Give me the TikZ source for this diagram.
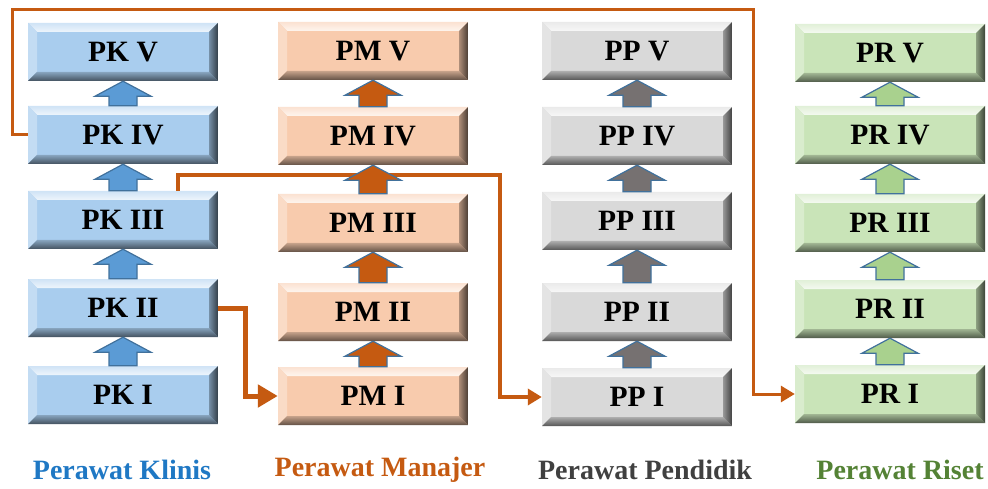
\documentclass[tikz,border=0pt]{standalone}
\usepackage{fontspec}
\setmainfont{Liberation Serif}
\usetikzlibrary{arrows.meta,calc}
\definecolor{kface}{HTML}{A9CDEE}
\definecolor{mface}{HTML}{F8CBAD}
\definecolor{pface}{HTML}{D9D9D9}
\definecolor{rface}{HTML}{C9E4B8}
\definecolor{karr}{HTML}{5B9BD5}
\definecolor{marr}{HTML}{C55A11}
\definecolor{parr}{HTML}{767171}
\definecolor{rarr}{HTML}{A9D18E}
\definecolor{arrline}{HTML}{41719C}
\definecolor{oline}{HTML}{C55A11}
\definecolor{ktxt}{HTML}{1F78C4}
\definecolor{mtxt}{HTML}{C55A11}
\definecolor{ptxt}{HTML}{404040}
\definecolor{rtxt}{HTML}{548235}
\newcommand{\bvz}{9pt}
\tikzset{
  bev/.style={minimum width=190pt, minimum height=58pt, inner sep=0pt,
    fill=#1, font=\fontsize{29.5}{31}\selectfont\bfseries,
    path picture={
      \path (path picture bounding box.north west) coordinate (bnw)
            (path picture bounding box.north east) coordinate (bne)
            (path picture bounding box.south west) coordinate (bsw)
            (path picture bounding box.south east) coordinate (bse);
      \shade[top color=#1!55!white, bottom color=#1!20!white] (bnw) -- (bne) -- ([shift={(-\bvz,-\bvz)}]bne) -- ([shift={(\bvz,-\bvz)}]bnw) -- cycle;
      \fill[#1!70!white] (bnw) -- ([shift={(\bvz,-\bvz)}]bnw) -- ([shift={(\bvz,\bvz)}]bsw) -- (bsw) -- cycle;
      \shade[top color=#1!80!black, bottom color=#1!40!black] (bsw) -- (bse) -- ([shift={(-\bvz,\bvz)}]bse) -- ([shift={(\bvz,\bvz)}]bsw) -- cycle;
      \shade[left color=#1!70!black, right color=#1!30!black] (bne) -- (bse) -- ([shift={(-\bvz,\bvz)}]bse) -- ([shift={(-\bvz,-\bvz)}]bne) -- cycle;
    }},
  uparr/.style={fill=#1, draw=arrline, line width=1.2pt, line join=miter},
  conn/.style={draw=oline, line width=#1, line join=miter,
    -{Triangle[length=14pt,width=16pt]}},
  lbl/.style={font=\fontsize{28}{30}\selectfont\bfseries, inner sep=0pt}
}
\newcommand{\uparr}[3]{%
  \draw[uparr=#3] (#1.south) -- ++(28pt,-15pt) -- ++(-14pt,0pt) -- ([xshift=14pt]#2.north)
    -- ([xshift=-14pt]#2.north) -- ([shift={(-14pt,-15pt)}]#1.south) -- ++(-14pt,0pt) -- cycle;}
\begin{document}
\begin{tikzpicture}[x=1pt,y=-1pt]
\useasboundingbox (0,0) rectangle (988,489);
% Perawat Klinis
\node[bev=kface] (pk5) at (123,52) {PK V};
\node[bev=kface] (pk4) at (123,135) {PK IV};
\node[bev=kface] (pk3) at (123,220) {PK III};
\node[bev=kface] (pk2) at (123,308) {PK II};
\node[bev=kface] (pk1) at (123,395) {PK I};
% Perawat Manajer
\node[bev=mface] (pm5) at (373,51) {PM V};
\node[bev=mface] (pm4) at (373,136) {PM IV};
\node[bev=mface] (pm3) at (373,223) {PM III};
\node[bev=mface] (pm2) at (373,312) {PM II};
\node[bev=mface] (pm1) at (373,396) {PM I};
% Perawat Pendidik
\node[bev=pface] (pp5) at (637,51) {PP V};
\node[bev=pface] (pp4) at (637,136) {PP IV};
\node[bev=pface] (pp3) at (637,221) {PP III};
\node[bev=pface] (pp2) at (637,312) {PP II};
\node[bev=pface] (pp1) at (637,397) {PP I};
% Perawat Riset
\node[bev=rface] (pr5) at (890,53) {PR V};
\node[bev=rface] (pr4) at (890,135) {PR IV};
\node[bev=rface] (pr3) at (890,223) {PR III};
\node[bev=rface] (pr2) at (890,309) {PR II};
\node[bev=rface] (pr1) at (890,394) {PR I};
% orange connectors
\coordinate (k1) at (12,10);
\coordinate (k2) at (753,10);
\coordinate (m1) at (500,175);
\draw[conn=3pt] (pk4.west) -| (k1) -- (k2) |- (pr1.west);
\draw[conn=3.5pt] ([xshift=55pt]pk3.north) |- (m1) |- (pp1.west);
\draw[conn=5pt, -{Triangle[length=20pt,width=22pt]}] (pk2.east) -- ++(27,0) |- (pm1.west);
% up arrows
\uparr{pk5}{pk4}{karr}
\uparr{pk4}{pk3}{karr}
\uparr{pk3}{pk2}{karr}
\uparr{pk2}{pk1}{karr}
\uparr{pm5}{pm4}{marr}
\uparr{pm4}{pm3}{marr}
\uparr{pm3}{pm2}{marr}
\uparr{pm2}{pm1}{marr}
\uparr{pp5}{pp4}{parr}
\uparr{pp4}{pp3}{parr}
\uparr{pp3}{pp2}{parr}
\uparr{pp2}{pp1}{parr}
\uparr{pr5}{pr4}{rarr}
\uparr{pr4}{pr3}{rarr}
\uparr{pr3}{pr2}{rarr}
\uparr{pr2}{pr1}{rarr}
% labels
\node[lbl, text=ktxt] (lk) at (122,470) {Perawat Klinis};
\node[lbl, text=mtxt] (lm) at (380,470) {Perawat Manajer};
\node[lbl, text=ptxt] (lp) at (645,470) {Perawat Pendidik};
\node[lbl, text=rtxt] (lr) at (900,470) {Perawat Riset};
\end{tikzpicture}
\end{document}
